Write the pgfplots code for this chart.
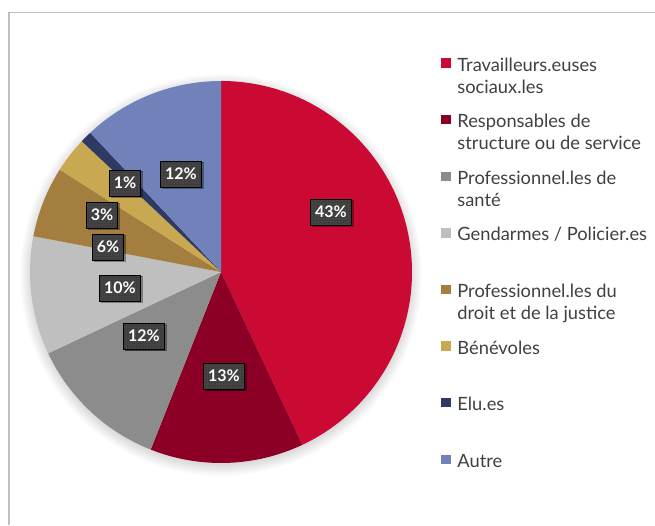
\documentclass[border=0pt]{standalone}
\usepackage{pgfplots}
\pgfplotsset{compat=1.18}
\usepackage{pgfplotstable}
\usepackage{fontspec}
\setmainfont{Lato}
\usetikzlibrary{shadows,patterns}

\definecolor{slice0}{RGB}{203,10,52}
\definecolor{slice1}{RGB}{139,0,36}
\definecolor{slice2}{RGB}{140,140,140}
\definecolor{slice3}{RGB}{191,191,191}
\definecolor{slice4}{RGB}{164,126,62}
\definecolor{slice5}{RGB}{201,168,82}
\definecolor{slice6}{RGB}{46,57,100}
\definecolor{slice7}{RGB}{112,130,185}
\definecolor{legtext}{RGB}{64,64,64}
\definecolor{boxfill}{RGB}{62,62,62}
\definecolor{framegray}{RGB}{191,191,191}

% value (%), label centre x / y in pixels from top-left
\pgfplotstableread{
value lx ly
43 331 212
13 224 376
12 144 336
10 120 288
6 108 247
3 102 215
1 125 183
12 181 174
}\piedata

\begin{document}
\begin{tikzpicture}
\useasboundingbox (0,0) rectangle (655pt,525pt);
\begin{axis}[
  at={(0,0)}, anchor=south west,
  width=655pt, height=525pt, scale only axis,
  xmin=0, xmax=655, ymin=0, ymax=525,
  hide axis, clip=false,
  /pgf/number format/assume math mode=true,
  legend style={
    at={(0.6733,0.8895)}, anchor=north west,
    draw=none, fill=none, inner sep=0pt, outer sep=0pt,
    row sep=0pt, column sep=7pt,
    font=\fontsize{18.3}{22}\selectfont,
    cells={anchor=base west},
    nodes={inner sep=0pt, text=legtext, text height=13pt, text depth=43.6pt},
  },
]
% frame
\draw[framegray, line width=1.2pt] (axis cs:9,0) -- (axis cs:9,512.5) -- (axis cs:655,512.5);

% soft shadow
\pgfplotsforeachungrouped \r in {1,...,12}{
  \edef\temp{\noexpand\fill[black, opacity=0.012] (axis cs:221,250) circle[radius=\r pt+189pt];}
  \temp
}

% wedges
\def\cum{0}
\pgfplotsforeachungrouped \i in {0,...,7}{
  \pgfplotstablegetelem{\i}{value}\of\piedata
  \let\val\pgfplotsretval
  \pgfmathsetmacro{\aone}{90-3.6*\cum}
  \pgfmathsetmacro{\atwo}{90-3.6*(\cum+\val)}
  \pgfmathsetmacro{\cum}{\cum+\val}
  \edef\temp{\noexpand\fill[slice\i] (axis cs:221,253) -- ++(\aone:191pt) arc[start angle=\aone, end angle=\atwo, radius=191pt] -- cycle;}
  \temp
}

% legend
\addlegendimage{legend image code/.code={\fill[slice0] (0pt,4pt) rectangle (9pt,12.5pt);}}
\addlegendentry{\parbox[t]{200pt}{Travailleurs.euses\newline sociaux.les}}
\addlegendimage{legend image code/.code={\fill[slice1] (0pt,4pt) rectangle (9pt,12.5pt);}}
\addlegendentry{\parbox[t]{200pt}{Responsables de\newline structure ou de service}}
\addlegendimage{legend image code/.code={\fill[slice2] (0pt,4pt) rectangle (9pt,12.5pt);}}
\addlegendentry{\parbox[t]{200pt}{Professionnel.les de\newline santé}}
\addlegendimage{legend image code/.code={\fill[slice3] (0pt,4pt) rectangle (9pt,12.5pt);}}
\addlegendentry{Gendarmes / Policier.es}
\addlegendimage{legend image code/.code={\fill[slice4] (0pt,4pt) rectangle (9pt,12.5pt);}}
\addlegendentry{\parbox[t]{200pt}{Professionnel.les du\newline droit et de la justice}}
\addlegendimage{legend image code/.code={\fill[slice5] (0pt,4pt) rectangle (9pt,12.5pt);}}
\addlegendentry{Bénévoles}
\addlegendimage{legend image code/.code={\fill[slice6] (0pt,4pt) rectangle (9pt,12.5pt);}}
\addlegendentry{Elu.es}
\addlegendimage{legend image code/.code={\fill[slice7] (0pt,4pt) rectangle (9pt,12.5pt);}}
\addlegendentry{Autre}

% data labels
\addplot[forget plot, only marks, mark=none, point meta=explicit,
  nodes near coords={\pgfmathprintnumber[fixed,precision=0,assume math mode=true]{\pgfplotspointmeta}\%},
  nodes near coords align={center},
  every node near coord/.style={anchor=center, fill=boxfill, text=white,
    font=\fontsize{16}{16}\selectfont\bfseries, inner xsep=4.5pt, inner ysep=0pt,
    minimum height=26pt,
    drop shadow={shadow xshift=1.5pt, shadow yshift=-1.5pt, fill=black, opacity=0.35},
    postaction={pattern=dots, pattern color=black!55}},
] table[x=lx, y expr=525-\thisrow{ly}, meta=value]{\piedata};
\end{axis}
\end{tikzpicture}
\end{document}
